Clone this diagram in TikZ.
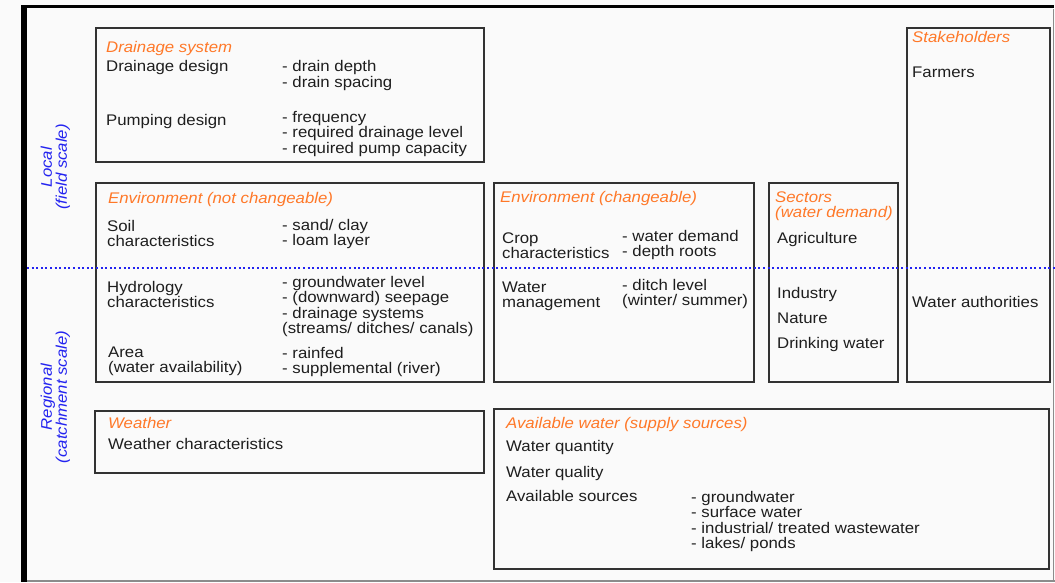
\documentclass[tikz,border=0pt]{standalone}
\usepackage{fontspec}
\setmainfont{Liberation Sans}[FakeStretch=1.09]
\definecolor{ttl}{RGB}{255,120,40}
\definecolor{scl}{RGB}{35,35,240}
\definecolor{bx}{RGB}{50,50,50}
\definecolor{fg}{RGB}{30,30,30}
\newcommand\txtlines[4]{%
  \foreach \t [count=\k] in {#4}
    \node[txt] (#1\k) at (#2,{#3+(\k-1)*15.5}) {\t};}
\begin{document}
\begin{tikzpicture}[x=1pt,y=-1pt,
  txt/.style={anchor=base west,inner sep=0pt,text=fg,font=\fontsize{15.4}{15.5}\selectfont},
  ttltxt/.style={txt,text=ttl,font=\fontsize{15.4}{15.5}\selectfont\itshape},
  boxline/.style={draw=bx,line width=1.6pt},
  scaletxt/.style={rotate=90,align=center,inner sep=0pt,text=scl,font=\fontsize{15.4}{15}\selectfont\itshape}]
\useasboundingbox (0,0) rectangle (1055,582);
\fill[white!98!black] (0,0) rectangle (1055,582);
% frame
\draw[black!45,line width=1.5pt] (1053.5,9) -- (1053.5,581);
\draw[black!45,line width=1.5pt] (27,580.8) -- (1055,580.8);
\draw[black,line width=3.5pt] (21,6.5) -- (1054,6.5);
\draw[black,line width=6pt] (24,5) -- (24,582);
% boxes
\draw[boxline] (96,28) rectangle (484,162);
\draw[boxline] (907,28) rectangle (1050,382);
\draw[boxline] (96,183) rectangle (484,382);
\draw[boxline] (494,183) rectangle (754,382);
\draw[boxline] (769,183) rectangle (898,382);
\draw[boxline] (95,411) rectangle (484,473);
\draw[boxline] (494,409) rectangle (1049,569);
% scale labels
\node[scaletxt] (local) at (55.5,167) {Local\\(field scale)};
\node[scaletxt] (regional) at (55.5,397) {Regional\\(catchment scale)};
% drainage system
\node[ttltxt] (dstitle) at (106,52) {Drainage system};
\node[txt] (dd) at (106,71) {Drainage design};
\txtlines{ddl}{282}{71.5}{- drain depth,- drain spacing}
\node[txt] (pd) at (106,125) {Pumping design};
\txtlines{pdl}{282}{122}{- frequency,- required drainage level,- required pump capacity}
% environment not changeable
\node[ttltxt] (enctitle) at (108,203) {Environment (not changeable)};
\txtlines{soil}{107}{231}{Soil,characteristics}
\txtlines{soill}{282}{230}{- sand/ clay,- loam layer}
\txtlines{hyd}{107}{292}{Hydrology,characteristics}
\txtlines{hydl}{282}{287}{- groundwater level,- (downward) seepage,- drainage systems,(streams/ ditches/ canals)}
\txtlines{area}{108}{357}{Area,(water availability)}
\txtlines{areal}{282}{358}{- rainfed,- supplemental (river)}
% environment changeable
\node[ttltxt] (ectitle) at (500,202) {Environment (changeable)};
\txtlines{crop}{502}{243}{Crop,characteristics}
\txtlines{cropl}{622}{241}{- water demand,- depth roots}
\txtlines{wm}{502}{292}{Water,management}
\txtlines{wml}{622}{290}{- ditch level,(winter/ summer)}
% sectors
\node[ttltxt] (sectitle1) at (775,202) {Sectors};
\node[ttltxt] (sectitle2) at (775,217.5) {(water demand)};
\node[txt] (agri) at (777,243) {Agriculture};
\node[txt] (ind) at (777,298) {Industry};
\node[txt] (nat) at (777,323) {Nature};
\node[txt] (drink) at (777,348) {Drinking water};
% stakeholders
\node[ttltxt] (sttitle) at (912,42) {Stakeholders};
\node[txt] (farm) at (912,77) {Farmers};
\node[txt] (wauth) at (912,307) {Water authorities};
% weather
\node[ttltxt] (wtitle) at (108,428) {Weather};
\node[txt] (wchar) at (108,449) {Weather characteristics};
% available water
\node[ttltxt] (awtitle) at (506,428) {Available water (supply sources)};
\node[txt] (wqn) at (506,451) {Water quantity};
\node[txt] (wql) at (506,477) {Water quality};
\node[txt] (avs) at (506,501) {Available sources};
\txtlines{avsl}{691}{502}{- groundwater,- surface water,- industrial/ treated wastewater,- lakes/ ponds}
% divider
\draw[scl,line width=2pt,dash pattern=on 2pt off 2.6pt] (27,268) -- (1055,268);
\end{tikzpicture}
\end{document}
